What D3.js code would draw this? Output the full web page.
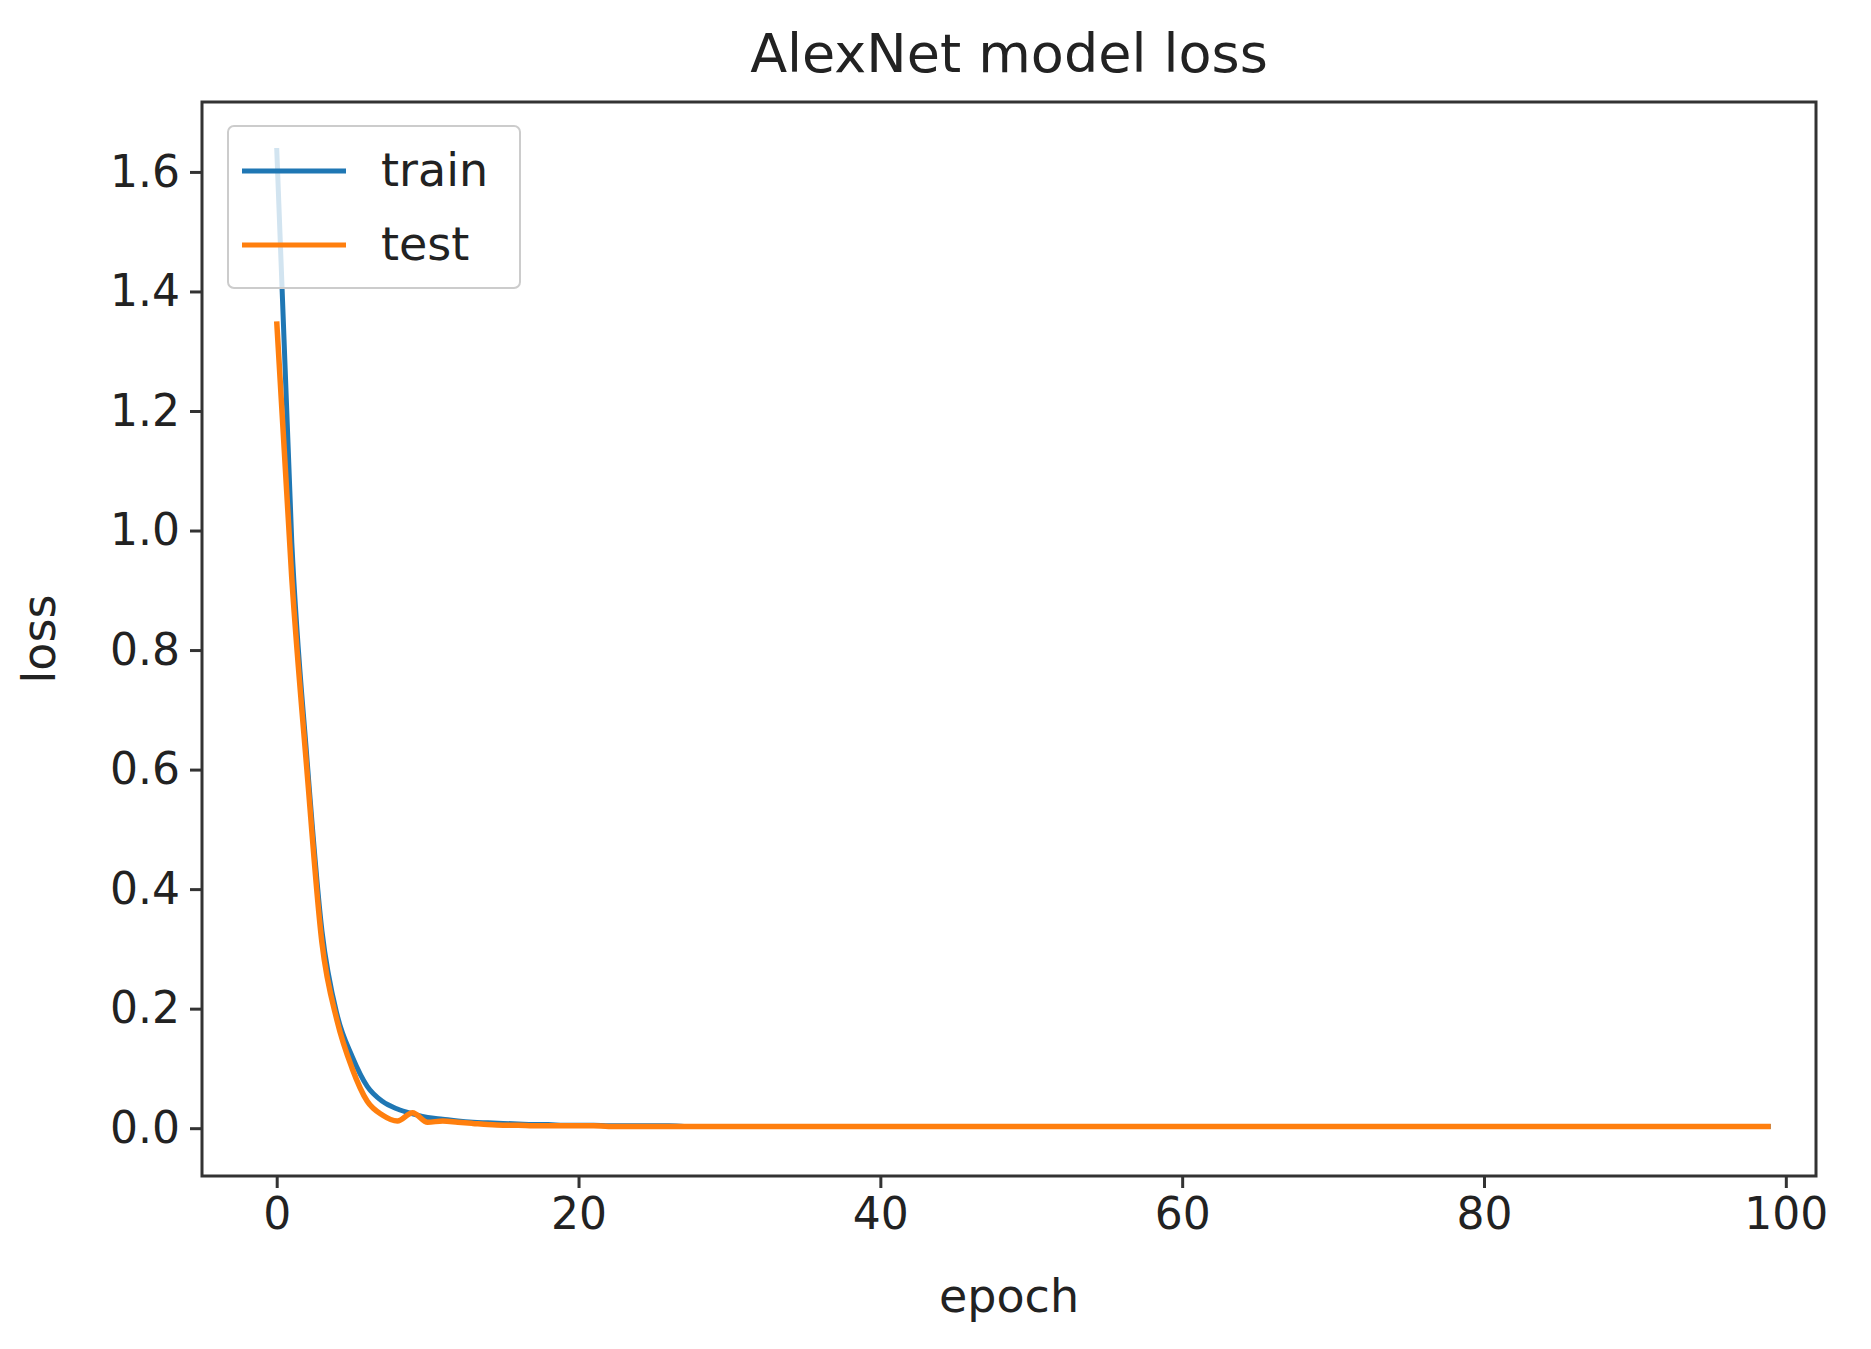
<!DOCTYPE html>
<html>
<head>
<meta charset="utf-8">
<script src="https://cdn.jsdelivr.net/npm/d3@7"></script>
<style>
  body { margin: 0; background: #fff; }
  text { font-family: "DejaVu Sans", sans-serif; fill: #222; }
</style>
</head>
<body>
<script>
// loss per epoch
const trainLoss = [1.64, 0.98, 0.62, 0.33, 0.19, 0.12, 0.07, 0.045, 0.032, 0.024,
  0.018, 0.015, 0.012, 0.010, 0.009, 0.008, 0.007, 0.006, 0.006, 0.005,
  0.005, 0.005, 0.004, 0.004, 0.004, 0.004, 0.004, 0.003, 0.003, 0.003,
  0.003, 0.003, 0.003, 0.003, 0.003, 0.003, 0.003, 0.003, 0.003, 0.003,
  0.003, 0.003, 0.003, 0.003, 0.003, 0.003, 0.003, 0.003, 0.003, 0.003,
  0.003, 0.003, 0.003, 0.003, 0.003, 0.003, 0.003, 0.003, 0.003, 0.003,
  0.003, 0.003, 0.003, 0.003, 0.003, 0.003, 0.003, 0.003, 0.003, 0.003,
  0.003, 0.003, 0.003, 0.003, 0.003, 0.003, 0.003, 0.003, 0.003, 0.003,
  0.003, 0.003, 0.003, 0.003, 0.003, 0.003, 0.003, 0.003, 0.003, 0.003,
  0.003, 0.003, 0.003, 0.003, 0.003, 0.003, 0.003, 0.003, 0.003, 0.003];
const testLoss = [1.35, 0.92, 0.60, 0.31, 0.18, 0.10, 0.045, 0.022, 0.012, 0.026,
  0.010, 0.012, 0.010, 0.008, 0.006, 0.005, 0.005, 0.004, 0.004, 0.004,
  0.004, 0.004, 0.003, 0.003, 0.003, 0.003, 0.003, 0.003, 0.003, 0.003,
  0.003, 0.003, 0.003, 0.003, 0.003, 0.003, 0.003, 0.003, 0.003, 0.003,
  0.003, 0.003, 0.003, 0.003, 0.003, 0.003, 0.003, 0.003, 0.003, 0.003,
  0.003, 0.003, 0.003, 0.003, 0.003, 0.003, 0.003, 0.003, 0.003, 0.003,
  0.003, 0.003, 0.003, 0.003, 0.003, 0.003, 0.003, 0.003, 0.003, 0.003,
  0.003, 0.003, 0.003, 0.003, 0.003, 0.003, 0.003, 0.003, 0.003, 0.003,
  0.003, 0.003, 0.003, 0.003, 0.003, 0.003, 0.003, 0.003, 0.003, 0.003,
  0.003, 0.003, 0.003, 0.003, 0.003, 0.003, 0.003, 0.003, 0.003, 0.003];
const xTicks = [0, 20, 40, 60, 80, 100];
const yTicks = [0, 0.2, 0.4, 0.6, 0.8, 1.0, 1.2, 1.4, 1.6];

const width = 1871, height = 1349;
const m = {left: 202, right: 1816, top: 102, bottom: 1176};

const svg = d3.select("body").append("svg")
    .attr("width", width).attr("height", height);

const x = d3.scaleLinear().domain([-4.95, 102]).range([m.left, m.right]);
const y = d3.scaleLinear().domain([-0.08, 1.717]).range([m.bottom, m.top]);

const line = d3.line().x((d, i) => x(i)).y(d => y(d)).curve(d3.curveMonotoneX);

svg.append("path").datum(trainLoss)
    .attr("d", line).attr("fill", "none")
    .attr("stroke", "#1f77b4").attr("stroke-width", 5);
svg.append("path").datum(testLoss)
    .attr("d", line).attr("fill", "none")
    .attr("stroke", "#ff7f0e").attr("stroke-width", 5.5);

const xAxis = svg.append("g").attr("transform", `translate(0,${m.bottom})`)
    .call(d3.axisBottom(x).tickValues(xTicks).tickSize(12).tickPadding(10).tickFormat(d3.format("d")));
const yAxis = svg.append("g").attr("transform", `translate(${m.left},0)`)
    .call(d3.axisLeft(y).tickValues(yTicks).tickSize(12).tickPadding(10).tickFormat(d3.format(".1f")));
[xAxis, yAxis].forEach(a => {
  a.selectAll("path").remove();
  a.selectAll("line").attr("stroke", "#333").attr("stroke-width", 3);
  a.selectAll("text").style("font-size", "44px").style("fill", "#222");
});

svg.append("rect")
    .attr("x", m.left).attr("y", m.top)
    .attr("width", m.right - m.left).attr("height", m.bottom - m.top)
    .attr("fill", "none").attr("stroke", "#333").attr("stroke-width", 3);

svg.append("text").attr("x", (m.left + m.right) / 2).attr("y", 72)
    .attr("text-anchor", "middle").style("font-size", "54px").text("AlexNet model loss");
svg.append("text").attr("x", (m.left + m.right) / 2).attr("y", 1312)
    .attr("text-anchor", "middle").style("font-size", "46px").text("epoch");
svg.append("text").attr("transform", `translate(55,${(m.top + m.bottom) / 2}) rotate(-90)`)
    .attr("text-anchor", "middle").style("font-size", "46px").text("loss");

// legend
const lg = svg.append("g").attr("transform", `translate(${m.left + 26},${m.top + 24})`);
lg.append("rect").attr("width", 292).attr("height", 162).attr("rx", 6)
    .attr("fill", "#fff").attr("fill-opacity", 0.8).attr("stroke", "#ccc").attr("stroke-width", 2);
[["train", "#1f77b4"], ["test", "#ff7f0e"]].forEach(([name, c], i) => {
  const yy = 45 + i * 74;
  lg.append("line").attr("x1", 14).attr("x2", 118).attr("y1", yy).attr("y2", yy)
      .attr("stroke", c).attr("stroke-width", 5);
  lg.append("text").attr("x", 153).attr("y", yy + 15).style("font-size", "46px").text(name);
});
</script>
</body>
</html>
